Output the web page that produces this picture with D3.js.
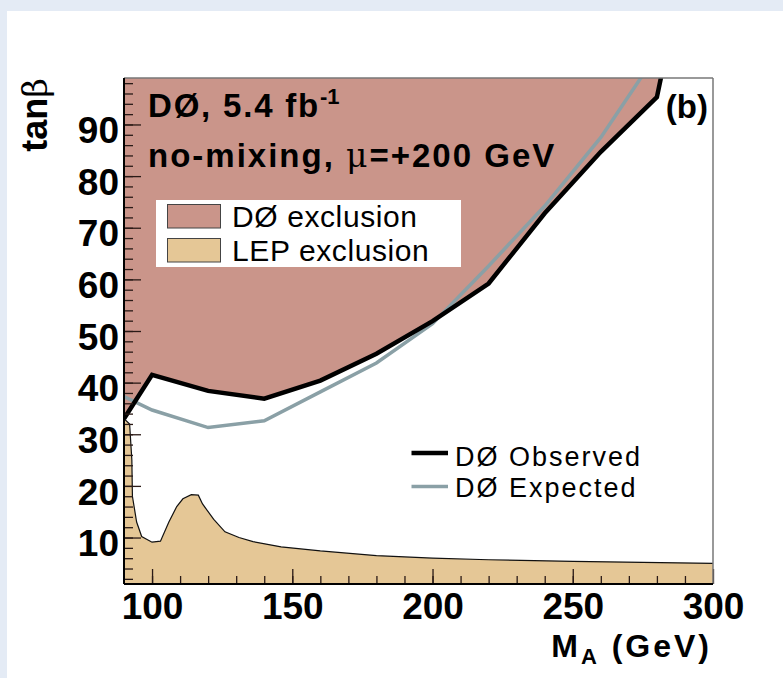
<!DOCTYPE html>
<html>
<head>
<meta charset="utf-8">
<script src="https://cdn.jsdelivr.net/npm/d3@7"></script>
<style>
  body { margin: 0; padding: 0; background: #e6edf6; }
  svg { display: block; }
  text { font-family: "Liberation Sans", Arial, Helvetica, sans-serif; }
</style>
</head>
<body>
<svg id="chart" width="783" height="678"></svg>
<script>
// ---------- data ----------
const obsMass = [90, 100, 120, 140, 160, 180, 200, 220, 240, 260, 280, 282];
const obsTanb = [33, 41.5, 38.4, 36.9, 40.4, 45.6, 51.9, 59.2, 72.8, 84.7, 95.3, 100.5];

const expMass = [90, 100, 120, 140, 160, 180, 200, 220, 240, 260, 275];
const expTanb = [37.3, 34.7, 31.3, 32.6, 38.2, 43.8, 51.4, 62.6, 74.2, 87.5, 99.6];

const lepMass = [90, 92, 92.8, 93, 94.5, 96.3, 100, 103, 106, 108.8, 111, 114, 116.5, 118, 122, 126, 131, 136, 146, 160, 180, 200, 220, 250, 300];
const lepTanb = [33, 32, 25, 18, 13, 10.2, 9.1, 9.3, 13, 16, 17.5, 18.3, 18.2, 16.5, 13.5, 11.1, 10, 9.2, 8.2, 7.4, 6.5, 6.0, 5.7, 5.4, 5.0];

const xTickValues = [100, 150, 200, 250, 300];
const yTickValues = [10, 20, 30, 40, 50, 60, 70, 80, 90];
const xMinorValues = d3.range(100, 300, 10);
const yMinorValues = d3.range(2, 99, 2);

const legendFill = ["DØ exclusion", "LEP exclusion"];
const legendLine = ["DØ Observed", "DØ Expected"];

// ---------- styling ----------
const pink = "#ca958a", tan = "#e5c796", grayLine = "#8aa0a6";

const svg = d3.select("#chart");
// page background with white panel
svg.append("rect").attr("x", 0).attr("y", 0).attr("width", 783).attr("height", 678).attr("fill", "#e4ebf5");
svg.append("rect").attr("x", 7).attr("y", 11).attr("width", 776).attr("height", 667).attr("fill", "#ffffff");

const L = 124, R = 713, T = 78, B = 584;
const x = d3.scaleLinear().domain([90, 300]).range([L, R]);
const y = d3.scaleLinear().domain([1, 99]).range([B, T]);

const defs = svg.append("defs");
defs.append("clipPath").attr("id", "plotclip")
  .append("rect").attr("x", L).attr("y", T).attr("width", R - L).attr("height", B - T);

const plot = svg.append("g").attr("clip-path", "url(#plotclip)");

const obs = obsMass.map((m, i) => [m, obsTanb[i]]);
const exp = expMass.map((m, i) => [m, expTanb[i]]);
const lep = lepMass.map((m, i) => [m, lepTanb[i]]);

// LEP exclusion fill
plot.append("path")
  .attr("d", d3.area().x(d => x(d[0])).y0(y(0)).y1(d => y(d[1]))(lep))
  .attr("fill", tan);
// DØ exclusion fill (above observed)
plot.append("path")
  .attr("d", d3.area().x(d => x(d[0])).y0(y(101)).y1(d => y(d[1]))(obs))
  .attr("fill", pink);
// LEP boundary
plot.append("path")
  .attr("d", d3.line().x(d => x(d[0])).y(d => y(d[1]))(lep))
  .attr("fill", "none").attr("stroke", "#111").attr("stroke-width", 1.2);
// expected
plot.append("path")
  .attr("d", d3.line().x(d => x(d[0])).y(d => y(d[1]))(exp))
  .attr("fill", "none").attr("stroke", grayLine).attr("stroke-width", 3.5);
// observed
plot.append("path")
  .attr("d", d3.line().x(d => x(d[0])).y(d => y(d[1]))(obs))
  .attr("fill", "none").attr("stroke", "#000").attr("stroke-width", 4.5)
  .attr("stroke-linejoin", "miter");

// ---------- axes ----------
const tickColor = "#2a1a16";
const yAxisMinor = svg.append("g").attr("transform", `translate(${L},0)`)
  .call(d3.axisLeft(y).tickValues(yMinorValues).tickSize(-9).tickFormat(""));
const yAxis = svg.append("g").attr("transform", `translate(${L},0)`)
  .call(d3.axisLeft(y).tickValues(yTickValues).tickSize(-17).tickPadding(5));
const xAxisMinor = svg.append("g").attr("transform", `translate(0,${B})`)
  .call(d3.axisBottom(x).tickValues(xMinorValues).tickSize(-8).tickFormat(""));
const xAxis = svg.append("g").attr("transform", `translate(0,${B})`)
  .call(d3.axisBottom(x).tickValues(xTickValues).tickSize(-15).tickPadding(9));

[yAxisMinor, yAxis, xAxisMinor, xAxis].forEach(g => {
  g.select(".domain").remove();
  g.selectAll(".tick line").attr("stroke", tickColor).attr("stroke-width", 1.3);
});
[yAxis, xAxis].forEach(g => {
  g.selectAll(".tick text")
    .attr("font-family", "'Liberation Sans', Arial, sans-serif")
    .attr("font-size", 37).attr("font-weight", "bold").attr("fill", "#000");
});
yAxis.selectAll(".tick text").attr("dy", "0.49em");

// frame
svg.append("line").attr("x1", L).attr("x2", R).attr("y1", T).attr("y2", T).attr("stroke", "#777").attr("stroke-width", 1.5);
svg.append("line").attr("x1", R).attr("x2", R).attr("y1", T).attr("y2", B).attr("stroke", "#777").attr("stroke-width", 1.5);
svg.append("line").attr("x1", L).attr("x2", L).attr("y1", T).attr("y2", B).attr("stroke", "#000").attr("stroke-width", 2);
svg.append("line").attr("x1", L).attr("x2", R).attr("y1", B).attr("y2", B).attr("stroke", "#000").attr("stroke-width", 2);

// ---------- axis titles ----------
const yt = svg.append("text")
  .attr("transform", "translate(47,78) rotate(-90)")
  .attr("text-anchor", "end").attr("font-size", 36).attr("font-weight", "bold");
yt.append("tspan").text("tan");
yt.append("tspan").attr("font-family", "'DejaVu Serif', 'Liberation Serif', serif").attr("font-weight", "normal").attr("font-size", 34).text("β");

const xt = svg.append("text")
  .attr("x", 712).attr("y", 657).attr("text-anchor", "end")
  .attr("font-size", 32).attr("font-weight", "bold").attr("letter-spacing", 3);
xt.append("tspan").text("M");
xt.append("tspan").attr("font-size", 22).attr("dy", 7).text("A");
xt.append("tspan").attr("dy", -7).text(" (GeV)");

// ---------- labels ----------
const t1 = svg.append("text").attr("x", 148).attr("y", 117)
  .attr("font-size", 33).attr("font-weight", "bold").attr("letter-spacing", 1.8);
t1.append("tspan").text("DØ, 5.4 fb");
t1.append("tspan").attr("font-size", 22).attr("dy", -13).attr("letter-spacing", 0).text("-1");

const t2 = svg.append("text").attr("x", 148).attr("y", 167)
  .attr("font-size", 33).attr("font-weight", "bold").attr("letter-spacing", 2);
t2.append("tspan").text("no-mixing, ");
t2.append("tspan").attr("font-family", "'DejaVu Serif', 'Liberation Serif', serif").attr("font-weight", "normal").text("μ");
t2.append("tspan").text("=+200 GeV");

svg.append("text").attr("x", 708).attr("y", 118).attr("text-anchor", "end")
  .attr("font-size", 33).attr("font-weight", "bold").text("(b)");

// legend (fills)
svg.append("rect").attr("x", 156).attr("y", 200).attr("width", 305).attr("height", 67).attr("fill", "#fff");
const fillColors = [pink, tan];
legendFill.forEach((lab, i) => {
  svg.append("rect").attr("x", 167.5).attr("y", 204.5 + i * 34).attr("width", 53).attr("height", 23.5)
    .attr("fill", fillColors[i]).attr("stroke", "#444").attr("stroke-width", 1);
  svg.append("text").attr("x", 232).attr("y", 227 + i * 33.5)
    .attr("font-size", 30).attr("letter-spacing", 0.6).text(lab);
});

// legend (lines)
const lineColors = ["#000", grayLine];
const lineWidths = [4.5, 3.5];
legendLine.forEach((lab, i) => {
  svg.append("line").attr("x1", 411.5).attr("x2", 448).attr("y1", 453 + i * 33.5).attr("y2", 453 + i * 33.5)
    .attr("stroke", lineColors[i]).attr("stroke-width", lineWidths[i]);
  svg.append("text").attr("x", 455).attr("y", 465.5 + i * 31)
    .attr("font-size", 27).attr("letter-spacing", 2).text(lab);
});
</script>
</body>
</html>
